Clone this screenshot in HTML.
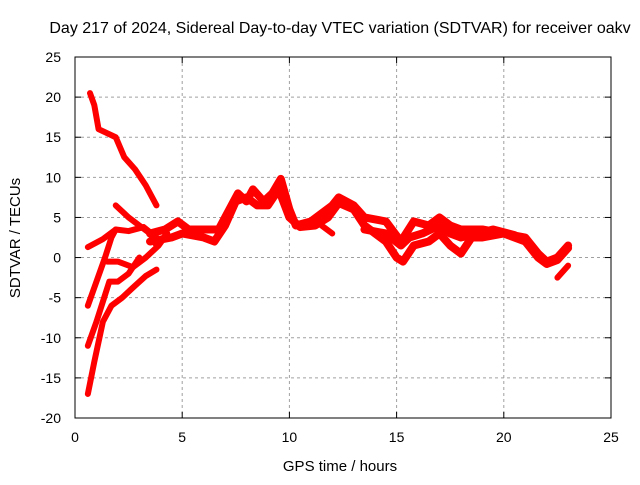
<!DOCTYPE html>
<html><head><meta charset="utf-8"><style>
body{margin:0;background:#fff}
svg text{font-family:"Liberation Sans",sans-serif;font-size:14px;fill:#000}
</style></head><body>
<svg id="chart" width="640" height="480">
<rect width="640" height="480" fill="#fff"/>
<text x="340" y="33" text-anchor="middle" style="font-size:16px">Day 217 of 2024, Sidereal Day-to-day VTEC variation (SDTVAR) for receiver oakv</text>
<g id="grid"></g><g id="series"></g>
<rect x="75" y="57" width="536" height="361" fill="none" stroke="#000" stroke-width="1"/>
<g id="axes"></g>
<text x="340" y="471" text-anchor="middle" style="font-size:15px">GPS time / hours</text>
<text transform="translate(20,238) rotate(-90)" text-anchor="middle" style="font-size:15px">SDTVAR / TECUs</text>
</svg>
<script>
const xTicks=[0,5,10,15,20,25];
const yTicks=[-20,-15,-10,-5,0,5,10,15,20,25];
const seriesA=[[0.7,20.5],[0.9,19],[1.1,16],[1.5,15.5],[1.9,15],[2.3,12.5],[2.8,11],[3.3,9],[3.8,6.5]];
const seriesB=[[1.9,6.5],[2.5,5],[3.0,4],[3.5,3],[3.8,1.5],[4.3,3]];
const seriesC=[[0.6,1.3],[1.3,2.3],[1.9,3.5],[2.5,3.3],[3.2,3.8],[3.8,2.5]];
const seriesD=[[0.6,-6],[1.0,-3],[1.4,0],[1.7,2.5],[1.9,3.5]];
const seriesD2=[[1.5,-0.5],[2.0,-0.5],[2.7,-1.2],[3.3,0],[3.9,1.5],[4.3,3]];
const seriesE=[[0.6,-11],[1.0,-8],[1.3,-5.5],[1.6,-3],[2.0,-3],[2.5,-2],[3.0,0]];
const seriesF=[[0.6,-17],[0.9,-13],[1.3,-8],[1.7,-6],[2.2,-5],[2.8,-3.5],[3.3,-2.3],[3.8,-1.5]];
const main1=[[3.5,3],[4.2,3.5],[4.8,4.5],[5.3,3.5],[6,3.5],[6.7,3.5],[7.3,6.5],[7.6,8],[8,7],[8.3,8.5],[8.8,7],[9.2,8],[9.6,9.8],[10,6],[10.3,4],[11,4.5],[11.5,5.5],[12,6.5],[12.3,7.5],[13,6.5],[13.5,5],[14.5,4.5],[15.2,2],[15.8,4.5],[16.5,4],[17,5],[17.5,4],[18,3.5],[19,3.5],[20,3],[21,2.5],[21.6,0.5],[22,-0.5],[22.5,0],[23,1.5]];
const main2=[[3.5,2],[4.5,2.5],[5,3],[6,2.5],[6.5,2],[7,4],[7.5,7],[8,7.5],[8.5,6.5],[9,6.5],[9.5,8.5],[10,5],[10.5,3.8],[11.2,4],[11.8,5],[12.3,6.8],[13,6],[13.5,4],[14,3],[14.5,2],[15,0],[15.3,-0.5],[15.8,1.5],[16.5,2],[17,3],[17.5,1.5],[18,0.5],[18.5,2.5],[19,2.5],[20,3],[21,2],[21.6,0],[22,-0.8],[22.5,-0.3],[23,1.2]];
const main3=[[13.5,3.5],[14.5,3],[15.2,1.5],[15.6,2.5],[16.2,3],[17,4],[17.5,3],[18,2.5],[18.5,2.8],[19.5,3.5],[20.5,2.8]];
const shortA=[[11.5,4],[12,3]];
const shortB=[[22.5,-2.5],[23,-1]];
const allSeries=[seriesA,seriesB,seriesC,seriesD,seriesD2,seriesE,seriesF,main1,main2,main3,shortA,shortB];
const NS="http://www.w3.org/2000/svg";
const X=v=>75+v*536/25, Y=v=>418-(v+20)*361/45;
const grid=document.getElementById('grid'),axes=document.getElementById('axes'),ser=document.getElementById('series');
function mk(t,a,p){const e=document.createElementNS(NS,t);for(const k in a)e.setAttribute(k,a[k]);p.appendChild(e);return e;}
xTicks.forEach(t=>{const x=X(t);
 if(t>0&&t<25){const g=mk('line',{x1:x,x2:x,y1:57,y2:418,stroke:'#a0a0a0','stroke-dasharray':'3,3'},grid);
 
 }
 mk('line',{x1:x,x2:x,y1:418,y2:412,stroke:'#000'},axes);mk('line',{x1:x,x2:x,y1:57,y2:63,stroke:'#000'},axes);
 const l=mk('text',{x:x,y:442,'text-anchor':'middle'},axes);l.textContent=t;
 
 });
yTicks.forEach(t=>{const y=Y(t);
 if(t>-20&&t<25){const g=mk('line',{x1:75,x2:611,y1:y,y2:y,stroke:'#a0a0a0','stroke-dasharray':'3,3'},grid);
 
 }
 mk('line',{x1:75,x2:81,y1:y,y2:y,stroke:'#000'},axes);mk('line',{x1:605,x2:611,y1:y,y2:y,stroke:'#000'},axes);
 const l=mk('text',{x:61,y:y+5,'text-anchor':'end'},axes);l.textContent=t;
 
 });
allSeries.forEach((s,i)=>{
 const p=mk('polyline',{points:s.map(d=>X(d[0])+','+Y(d[1])).join(' '),fill:'none',stroke:'#f00','stroke-width':(i>=7&&i<=9)?8:6,'stroke-linejoin':'round','stroke-linecap':'round'},ser);
 
 });
</script>
</body></html>
